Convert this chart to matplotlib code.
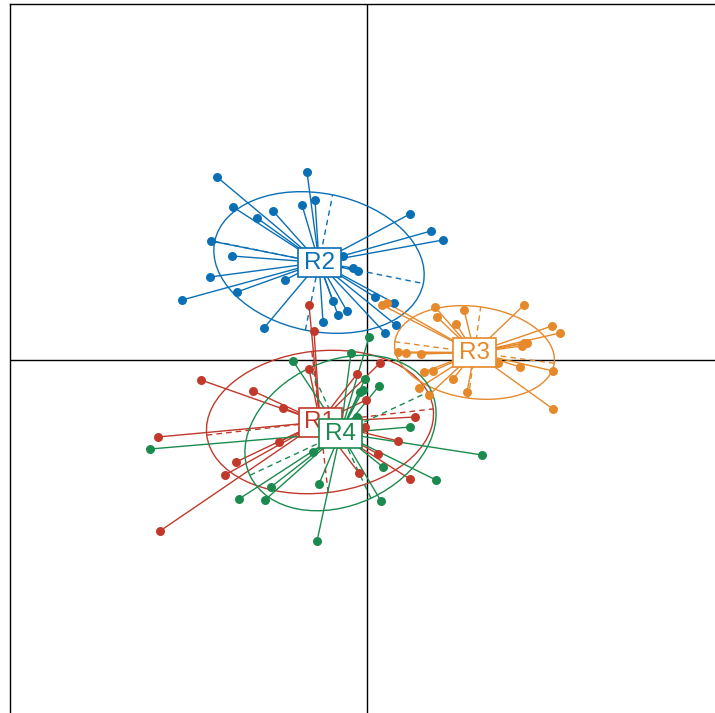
import numpy as np
import matplotlib
matplotlib.use("Agg")
import matplotlib.pyplot as plt
from matplotlib.patches import Ellipse, Rectangle

# class scores (x right, y up)
r1_x = [-0.58, -0.53, -1.66, -1.14, -0.84, -0.58, -2.09, -0.88, -1.31, -1.42,
        -2.07, 0.13, -0.10, -0.01, 0.48, -0.02, 0.31, 0.11, -0.08, 0.43]
r1_y = [0.55, 0.29, -0.20, -0.31, -0.48, -0.09, -0.77, -0.82, -1.02, -1.15,
        -1.71, -0.03, -0.14, -0.40, -0.57, -0.67, -0.81, -0.94, -1.13, -1.19]

r2_x = [-1.50, -0.60, -1.34, -1.10, -0.94, -0.65, -0.52, 0.43, 0.64, 0.76,
        -1.56, -1.35, -0.24, -0.14, -0.09, -1.57, -0.82, -1.85, -1.30, -0.34,
        -0.29, -0.20, -0.44, -1.03, 0.08, 0.27, 0.29, 0.18]
r2_y = [1.83, 1.88, 1.53, 1.42, 1.49, 1.55, 1.60, 1.46, 1.29, 1.20,
        1.19, 1.04, 1.04, 0.92, 0.89, 0.83, 0.80, 0.60, 0.68, 0.59,
        0.45, 0.49, 0.38, 0.32, 0.63, 0.57, 0.35, 0.27]

r3_x = [1.57, 1.85, 1.93, 0.97, 0.68, 0.70, 0.89, 0.15, 0.20, 0.31,
        0.39, 0.54, 1.57, 1.60, 1.55, 1.86, 1.53, 0.57, 0.66, 0.86,
        0.52, 1.00, 1.86, 1.31, 0.62]
r3_y = [0.55, 0.34, 0.27, 0.50, 0.53, 0.43, 0.36, 0.55, 0.57, 0.08,
        0.07, 0.06, 0.17, 0.17, 0.14, -0.11, -0.07, -0.12, -0.11, -0.19,
        -0.28, -0.32, -0.49, -0.03, -0.35]

r4_x = [0.02, -0.16, -0.74, -0.02, 0.12, -0.07, -0.04, 0.43, 1.15, -2.17,
        -0.54, 0.16, 0.69, -0.96, -0.48, -1.28, -1.02, 0.14, -0.50, -0.10]
r4_y = [0.23, 0.07, -0.01, -0.19, -0.26, -0.32, -0.30, -0.67, -0.95, -0.89,
        -0.92, -1.07, -1.20, -1.27, -1.24, -1.39, -1.40, -1.41, -1.81, -0.57]

# class centroids and 1.5 sd ellipses
groups = ["R1", "R2", "R3", "R4"]
cent_x = [-0.47, -0.48, 1.075, -0.265]
cent_y = [-0.62, 0.975, 0.075, -0.73]
ell_a = [1.14, 1.064, 0.804, 1.00]     # half major axis
ell_b = [0.71, 0.69, 0.46, 0.72]       # half minor axis
ell_ang = [6.6, -11.4, -7.7, 25.0]     # degrees

colors = ["#C0392B", "#0A6FB5", "#E6892B", "#1B8A4F"]
xs = [r1_x, r2_x, r3_x, r4_x]
ys = [r1_y, r2_y, r3_y, r4_y]

fig = plt.figure(figsize=(7.15, 7.13), dpi=100)
# frame runs a little past the right and bottom edges, as in the original
ax = fig.add_axes([10 / 715, -3 / 713, 714 / 715, 712 / 713])
ax.set_xlim(-3.57, 3.57)
ax.set_ylim(-3.56, 3.56)
ax.set_xticks([])
ax.set_yticks([])
for s in ax.spines.values():
    s.set_linewidth(1.0)
    s.set_color("black")
ax.axhline(0, color="black", lw=1.0, zorder=1)
ax.axvline(0, color="black", lw=1.0, zorder=1)

for i, (name, col) in enumerate(zip(groups, colors)):
    cx, cy = cent_x[i], cent_y[i]
    # stars
    for px, py in zip(xs[i], ys[i]):
        ax.plot([cx, px], [cy, py], color=col, lw=1.0, zorder=2)
    ax.scatter(xs[i], ys[i], s=42, color=col, zorder=3, linewidths=0)
    # ellipse with dashed axes
    a, b, t = ell_a[i], ell_b[i], np.radians(ell_ang[i])
    ax.add_patch(Ellipse((cx, cy), 2 * a, 2 * b, angle=ell_ang[i],
                         fill=False, edgecolor=col, lw=1.0, zorder=2))
    for dx, dy in [(a * np.cos(t), a * np.sin(t)),
                   (-b * np.sin(t), b * np.cos(t))]:
        ax.plot([cx - dx, cx + dx], [cy - dy, cy + dy], color=col, lw=1.0,
                ls=(0, (4, 3)), zorder=2)

# labels on top of everything, R4 over R1
for i, (name, col) in enumerate(zip(groups, colors)):
    cx, cy = cent_x[i], cent_y[i]
    ax.add_patch(Rectangle((cx - 0.215, cy - 0.145), 0.43, 0.29,
                           facecolor="white", edgecolor=col, lw=1.2,
                           zorder=5 + i))
    ax.text(cx, cy - 0.005, name, color=col, fontsize=17.5,
            family="Liberation Sans", ha="center", va="center",
            zorder=5 + i + 0.5)

fig.savefig("out.png", dpi=100)
